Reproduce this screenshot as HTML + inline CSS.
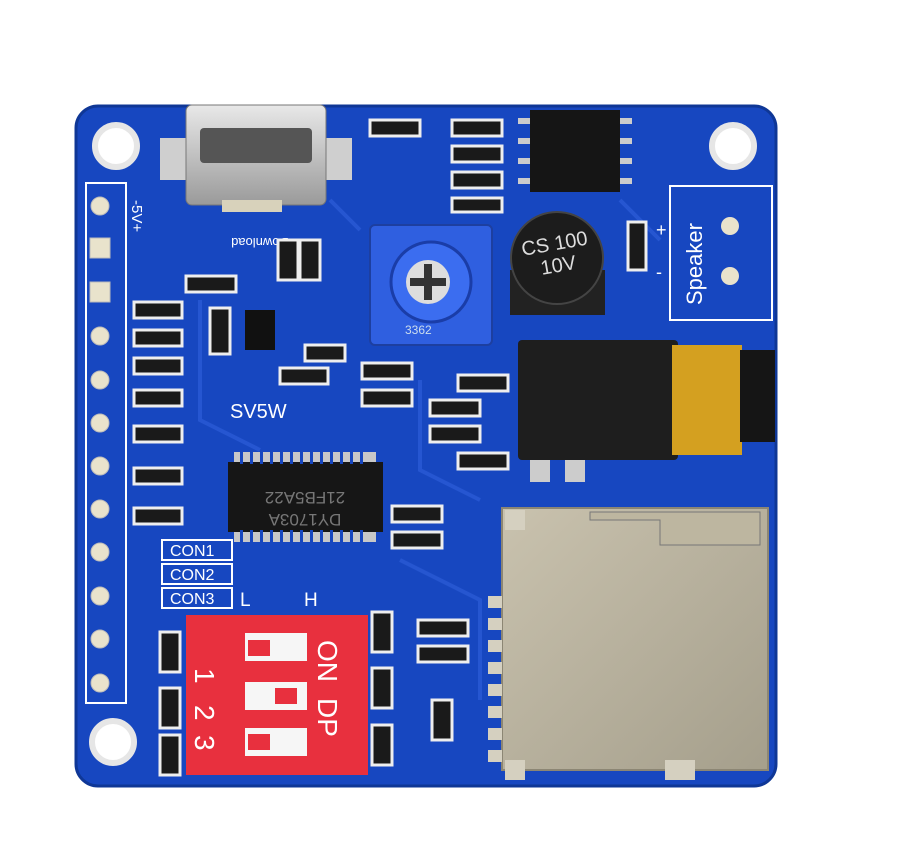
<!DOCTYPE html>
<html><head><meta charset="utf-8"><style>
html,body{margin:0;padding:0;background:#fff;}
svg{display:block;}
text{font-family:"Liberation Sans",sans-serif;}
</style></head><body>
<svg width="900" height="867" viewBox="0 0 900 867" xmlns="http://www.w3.org/2000/svg">
<defs>
<linearGradient id="sd" x1="0" y1="0" x2="1" y2="1"><stop offset="0" stop-color="#c9c2ae"/><stop offset="1" stop-color="#a59f8c"/></linearGradient>
<linearGradient id="usb" x1="0" y1="0" x2="0" y2="1"><stop offset="0" stop-color="#e8e8e8"/><stop offset="1" stop-color="#9a9a9a"/></linearGradient>
</defs>
<rect width="900" height="867" fill="#fff"/>
<!-- board -->
<rect x="76" y="106" width="700" height="680" rx="22" fill="#1747c0"/>
<rect x="76" y="106" width="700" height="680" rx="22" fill="none" stroke="#0f3796" stroke-width="3"/>
<!-- traces -->
<g stroke="#2a5ad4" stroke-width="4" fill="none" opacity="0.8">
<path d="M200 300 L200 420 L260 450"/><path d="M420 380 L420 470 L480 500"/><path d="M400 560 L480 600 L480 700"/><path d="M330 200 L360 230"/><path d="M620 200 L660 240"/>
</g>
<!-- holes -->
<g fill="#fff" stroke="#e6e6e6" stroke-width="6">
<circle cx="116" cy="146" r="21"/><circle cx="733" cy="146" r="21"/><circle cx="113" cy="742" r="21"/><circle cx="737" cy="742" r="0"/>
</g>
<!-- header -->
<rect x="86" y="183" width="40" height="520" fill="none" stroke="#fff" stroke-width="2"/>
<g fill="#e9e3cc" stroke="#bbb">
<circle cx="100" cy="206" r="9"/><rect x="90" y="238" width="20" height="20"/><rect x="90" y="282" width="20" height="20"/>
<circle cx="100" cy="336" r="9"/><circle cx="100" cy="380" r="9"/><circle cx="100" cy="423" r="9"/><circle cx="100" cy="466" r="9"/><circle cx="100" cy="509" r="9"/><circle cx="100" cy="552" r="9"/><circle cx="100" cy="596" r="9"/><circle cx="100" cy="639" r="9"/><circle cx="100" cy="683" r="9"/>
</g>
<text x="0" y="0" transform="translate(132,200) rotate(90)" fill="#fff" font-size="15">-5V+</text>
<!-- usb -->
<rect x="160" y="138" width="192" height="42" fill="#cfcfcf"/>
<rect x="186" y="105" width="140" height="100" rx="6" fill="url(#usb)" stroke="#777"/>
<rect x="200" y="128" width="112" height="35" rx="4" fill="#555"/>
<rect x="222" y="200" width="60" height="12" fill="#d8d2bb"/>
<text x="0" y="0" transform="translate(260,238) rotate(180)" fill="#fff" font-size="13" text-anchor="middle">Download</text>
<!-- small resistors -->
<g fill="#1a1a1a" stroke="#eee" stroke-width="3">
<rect x="134" y="302" width="48" height="16"/><rect x="134" y="330" width="48" height="16"/><rect x="134" y="358" width="48" height="16"/><rect x="134" y="390" width="48" height="16"/><rect x="134" y="426" width="48" height="16"/><rect x="134" y="468" width="48" height="16"/><rect x="134" y="508" width="48" height="16"/>
<rect x="186" y="276" width="50" height="16"/><rect x="210" y="308" width="20" height="46"/><rect x="305" y="345" width="40" height="16"/><rect x="280" y="368" width="48" height="16"/>
<rect x="362" y="363" width="50" height="16"/><rect x="362" y="390" width="50" height="16"/><rect x="430" y="400" width="50" height="16"/><rect x="430" y="426" width="50" height="16"/><rect x="458" y="375" width="50" height="16"/><rect x="458" y="453" width="50" height="16"/>
<rect x="392" y="506" width="50" height="16"/><rect x="392" y="532" width="50" height="16"/><rect x="418" y="620" width="50" height="16"/><rect x="418" y="646" width="50" height="16"/><rect x="432" y="700" width="20" height="40"/>
<rect x="452" y="120" width="50" height="16"/><rect x="452" y="146" width="50" height="16"/><rect x="452" y="172" width="50" height="16"/><rect x="452" y="198" width="50" height="14"/><rect x="370" y="120" width="50" height="16"/>
<rect x="278" y="240" width="20" height="40"/><rect x="300" y="240" width="20" height="40"/><rect x="628" y="222" width="18" height="48"/>
<rect x="160" y="632" width="20" height="40"/><rect x="160" y="688" width="20" height="40"/><rect x="160" y="735" width="20" height="40"/>
<rect x="372" y="612" width="20" height="40"/><rect x="372" y="668" width="20" height="40"/><rect x="372" y="725" width="20" height="40"/>
</g>
<!-- transistor -->
<rect x="245" y="310" width="30" height="40" fill="#111"/>
<!-- top right IC -->
<rect x="530" y="110" width="90" height="82" fill="#151515"/>
<g fill="#ccc"><rect x="518" y="118" width="12" height="6"/><rect x="518" y="138" width="12" height="6"/><rect x="518" y="158" width="12" height="6"/><rect x="518" y="178" width="12" height="6"/><rect x="620" y="118" width="12" height="6"/><rect x="620" y="138" width="12" height="6"/><rect x="620" y="158" width="12" height="6"/><rect x="620" y="178" width="12" height="6"/></g>
<!-- pot -->
<rect x="370" y="225" width="122" height="120" rx="5" fill="#2f5fe0" stroke="#1d3fa0" stroke-width="2"/>
<circle cx="431" cy="282" r="40" fill="#3b6df0" stroke="#1a3da8" stroke-width="3"/>
<circle cx="428" cy="282" r="22" fill="#ddd"/>
<rect x="424" y="264" width="8" height="36" fill="#333"/><rect x="410" y="278" width="36" height="8" fill="#333"/>
<text x="405" y="334" fill="#cde" font-size="12">3362</text>
<!-- capacitor -->
<rect x="510" y="270" width="95" height="45" fill="#222"/>
<circle cx="557" cy="258" r="46" fill="#1c1c1c" stroke="#444" stroke-width="2"/>
<text x="557" y="250" transform="rotate(-10 557 258)" fill="#ddd" font-size="20" text-anchor="middle">CS 100</text>
<text x="557" y="272" transform="rotate(-10 557 258)" fill="#ddd" font-size="20" text-anchor="middle">10V</text>
<!-- speaker -->
<rect x="670" y="186" width="102" height="134" fill="none" stroke="#fff" stroke-width="2"/>
<text x="0" y="0" transform="translate(702,305) rotate(-90)" fill="#fff" font-size="22">Speaker</text>
<circle cx="730" cy="226" r="9" fill="#e9e3cc"/><circle cx="730" cy="276" r="9" fill="#e9e3cc"/>
<text x="656" y="236" fill="#fff" font-size="18">+</text><text x="656" y="278" fill="#fff" font-size="18">-</text>
<!-- audio jack -->
<rect x="518" y="340" width="160" height="120" rx="4" fill="#1e1e1e"/>
<rect x="672" y="345" width="70" height="110" fill="#d4a020"/>
<rect x="740" y="350" width="35" height="92" fill="#151515"/>
<rect x="530" y="460" width="20" height="22" fill="#ccc"/><rect x="565" y="460" width="20" height="22" fill="#ccc"/>
<!-- main IC -->
<text x="230" y="418" fill="#fff" font-size="20">SV5W</text>
<g fill="#c8c8c8">
<rect x="234" y="452" width="142" height="12"/><rect x="234" y="530" width="142" height="12"/>
</g>
<rect x="228" y="462" width="155" height="70" fill="#161616"/>
<g fill="#1747c0"><rect x="240" y="452" width="3" height="12"/><rect x="250" y="452" width="3" height="12"/><rect x="260" y="452" width="3" height="12"/><rect x="270" y="452" width="3" height="12"/><rect x="280" y="452" width="3" height="12"/><rect x="290" y="452" width="3" height="12"/><rect x="300" y="452" width="3" height="12"/><rect x="310" y="452" width="3" height="12"/><rect x="320" y="452" width="3" height="12"/><rect x="330" y="452" width="3" height="12"/><rect x="340" y="452" width="3" height="12"/><rect x="350" y="452" width="3" height="12"/><rect x="360" y="452" width="3" height="12"/>
<rect x="240" y="530" width="3" height="12"/><rect x="250" y="530" width="3" height="12"/><rect x="260" y="530" width="3" height="12"/><rect x="270" y="530" width="3" height="12"/><rect x="280" y="530" width="3" height="12"/><rect x="290" y="530" width="3" height="12"/><rect x="300" y="530" width="3" height="12"/><rect x="310" y="530" width="3" height="12"/><rect x="320" y="530" width="3" height="12"/><rect x="330" y="530" width="3" height="12"/><rect x="340" y="530" width="3" height="12"/><rect x="350" y="530" width="3" height="12"/><rect x="360" y="530" width="3" height="12"/></g>
<text x="0" y="0" transform="translate(305,492) rotate(180)" fill="#777" font-size="17" text-anchor="middle">21FB5A22</text>
<text x="0" y="0" transform="translate(305,514) rotate(180)" fill="#777" font-size="17" text-anchor="middle">DY1703A</text>
<!-- CON labels -->
<g fill="none" stroke="#fff" stroke-width="2"><rect x="162" y="540" width="70" height="20"/><rect x="162" y="564" width="70" height="20"/><rect x="162" y="588" width="70" height="20"/></g>
<g fill="#fff" font-size="16"><text x="170" y="556">CON1</text><text x="170" y="580">CON2</text><text x="170" y="604">CON3</text>
<text x="240" y="606" font-size="19">L</text><text x="304" y="606" font-size="19">H</text></g>
<!-- DIP -->
<rect x="186" y="615" width="182" height="160" fill="#e8303e"/>
<g fill="#f6f6f6"><rect x="245" y="633" width="62" height="28"/><rect x="245" y="682" width="62" height="28"/><rect x="245" y="728" width="62" height="28"/></g>
<g fill="#e8303e"><rect x="248" y="640" width="22" height="16"/><rect x="275" y="688" width="22" height="16"/><rect x="248" y="734" width="22" height="16"/></g>
<g fill="#fff" font-size="28"><text x="0" y="0" transform="translate(195,668) rotate(90)">1</text>
<text x="0" y="0" transform="translate(195,705) rotate(90)">2</text><text x="0" y="0" transform="translate(195,735) rotate(90)">3</text>
<text x="0" y="0" transform="translate(318,640) rotate(90)">ON</text><text x="0" y="0" transform="translate(318,698) rotate(90)">DP</text></g>
<!-- SD card -->
<rect x="502" y="508" width="266" height="262" fill="url(#sd)" stroke="#8c8674" stroke-width="2"/>
<path d="M590 512 L760 512 L760 545 L660 545 L660 520 L590 520Z" fill="#bdb6a0" stroke="#777"/>
<g fill="#d5d0c0"><rect x="488" y="596" width="14" height="12"/><rect x="488" y="618" width="14" height="12"/><rect x="488" y="640" width="14" height="12"/><rect x="488" y="662" width="14" height="12"/><rect x="488" y="684" width="14" height="12"/><rect x="488" y="706" width="14" height="12"/><rect x="488" y="728" width="14" height="12"/><rect x="488" y="750" width="14" height="12"/>
<rect x="505" y="760" width="20" height="20"/><rect x="665" y="760" width="30" height="20"/><rect x="505" y="510" width="20" height="20"/></g>
</svg>
</body></html>
